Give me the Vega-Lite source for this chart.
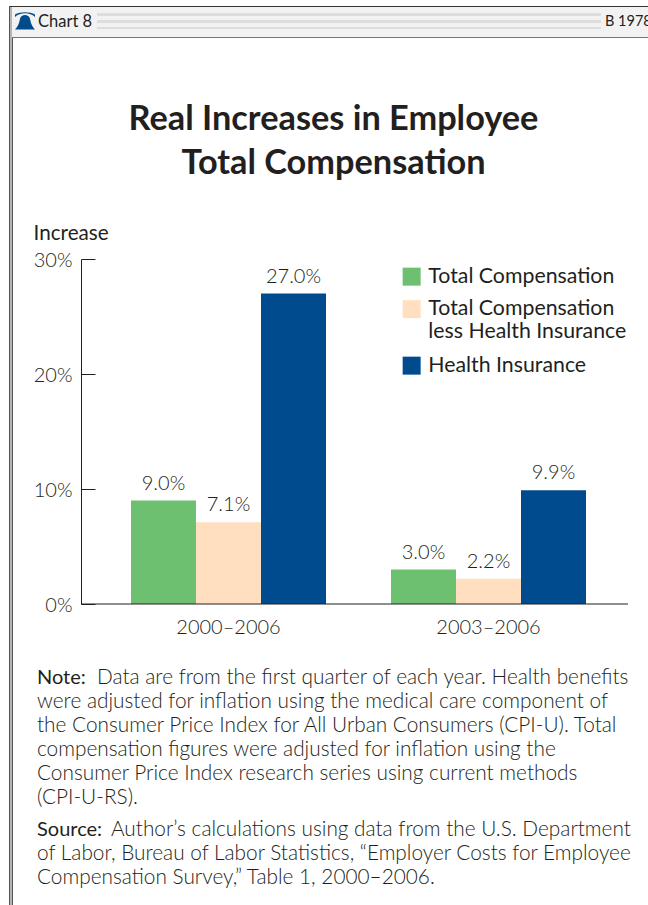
{
"$schema":"https://vega.github.io/schema/vega-lite/v6.json",
"width":547,"height":345,
"autosize":{"type":"none"},
"padding":{"left":81,"top":259,"right":20,"bottom":301},
"background":"#ffffff",
"config":{"view":{"stroke":null},"font":"Lato"},
"title":{"text":["Real Increases in Employee","Total Compensation"],"frame":"group","anchor":"middle","dx":-21,"fontSize":34.3,"fontWeight":"bold","font":"Lato","color":"#231f20","lineHeight":44,"offset":-215,"baseline":"bottom"},
"datasets":{
"bars":[
{"period":"2000–2006","series":"Total Compensation","value":9.0},
{"period":"2000–2006","series":"Total Compensation|less Health Insurance","value":7.1},
{"period":"2000–2006","series":"Health Insurance","value":27.0},
{"period":"2003–2006","series":"Total Compensation","value":3.0},
{"period":"2003–2006","series":"Total Compensation|less Health Insurance","value":2.2},
{"period":"2003–2006","series":"Health Insurance","value":9.9}
],
"frame":[
{"left":0,"right":648,"top":0,"bottom":6,"shade":"#ffffff"},
{"left":9,"right":648,"top":6,"bottom":37,"shade":"#f2f2f2"},
{"left":9,"right":648,"top":6,"bottom":7,"shade":"#333333"},
{"left":9,"right":10,"top":6,"bottom":905,"shade":"#555555"},
{"left":10,"right":12,"top":7,"bottom":905,"shade":"#b5b5b5"},
{"left":12,"right":13,"top":37,"bottom":905,"shade":"#555555"},
{"left":12,"right":648,"top":37,"bottom":38,"shade":"#777777"},
{"left":97,"right":601,"top":13,"bottom":16,"shade":"#dddddd"},
{"left":97,"right":601,"top":20,"bottom":23,"shade":"#dddddd"},
{"left":97,"right":601,"top":27,"bottom":29,"shade":"#dddddd"}
],
"header":[
{"left":38,"middle":22,"label":"Chart 8"},
{"left":605,"middle":22,"label":"B 1978"}
],
"notes":[
{"line":0,"text":"Data are from the first quarter of each year. Health benefits","lead":"Note:"},
{"line":1,"text":"were adjusted for inflation using the medical care component of"},
{"line":2,"text":"the Consumer Price Index for All Urban Consumers (CPI-U). Total"},
{"line":3,"text":"compensation figures were adjusted for inflation using the"},
{"line":4,"text":"Consumer Price Index research series using current methods"},
{"line":5,"text":"(CPI-U-RS)."},
{"line":6.35,"text":"Author’s calculations using data from the U.S. Department","lead":"Source:"},
{"line":7.35,"text":"of Labor, Bureau of Labor Statistics, “Employer Costs for Employee"},
{"line":8.35,"text":"Compensation Survey,” Table 1, 2000–2006."}
]
},
"resolve":{"scale":{"x":"independent","y":"independent","color":"independent"},"legend":{"color":"independent"}},
"layer":[
{"data":{"name":"frame"},
 "mark":{"type":"rect","clip":false},
 "encoding":{
  "x":{"field":"left","type":"quantitative","scale":{"domain":[81,628],"range":[0,547]},"axis":null},
  "x2":{"field":"right"},
  "y":{"field":"top","type":"quantitative","scale":{"domain":[259,604],"range":[0,345]},"axis":null},
  "y2":{"field":"bottom"},
  "color":{"field":"shade","type":"nominal","scale":null,"legend":null}
 }},
{"data":{"name":"header"},
 "transform":[{"filter":"datum.label=='Chart 8'"}],
 "mark":{"type":"text","align":"left","baseline":"middle","fontSize":16.5,"font":"Lato","color":"#231f20"},
 "encoding":{
  "x":{"field":"left","type":"quantitative","scale":{"domain":[81,628],"range":[0,547]},"axis":null},
  "y":{"field":"middle","type":"quantitative","scale":{"domain":[259,604],"range":[0,345]},"axis":null},
  "text":{"field":"label"}
 }},
{"data":{"name":"header"},
 "transform":[{"filter":"datum.label=='B 1978'"}],
 "mark":{"type":"text","align":"left","baseline":"middle","fontSize":14.5,"font":"Lato","color":"#231f20"},
 "encoding":{
  "x":{"field":"left","type":"quantitative","scale":{"domain":[81,628],"range":[0,547]},"axis":null},
  "y":{"field":"middle","type":"quantitative","scale":{"domain":[259,604],"range":[0,345]},"axis":null},
  "text":{"field":"label"}
 }},
{"data":{"values":[{"icon":"bell","left":25,"middle":22}]},
 "mark":{"type":"point","filled":true,"color":"#004b8d","opacity":1,"size":400,"shape":"M-1,0.75 C-0.75,0.5 -0.6,0.2 -0.5,-0.3 C-0.45,-0.6 -0.2,-0.7 0,-0.7 C0.2,-0.7 0.45,-0.6 0.5,-0.3 C0.6,0.2 0.75,0.5 1,0.75 Z M-1,-0.5 C-0.5,-1 0.5,-1 1,-0.5 L1,-0.75 C0.5,-1.05 -0.5,-1.05 -1,-0.75 Z"},
 "encoding":{
  "x":{"field":"left","type":"quantitative","scale":{"domain":[81,628],"range":[0,547]},"axis":null},
  "y":{"field":"middle","type":"quantitative","scale":{"domain":[259,604],"range":[0,345]},"axis":null}
 }},
{"data":{"name":"notes"},
 "mark":{"type":"text","align":"left","baseline":"middle","fontSize":20.8,"font":"Lato","fontWeight":300,"color":"#231f20"},
 "transform":[{"filter":"!datum.lead"}],
 "encoding":{
  "x":{"datum":37,"scale":{"domain":[81,628],"range":[0,547]},"axis":null},
  "y":{"field":"line","type":"quantitative","scale":{"domain":[0,10],"range":[419,659]},"axis":null},
  "text":{"field":"text"}
 }},
{"data":{"name":"notes"},
 "mark":{"type":"text","align":"left","baseline":"middle","fontSize":20,"font":"Lato","fontWeight":"normal","color":"#231f20"},
 "transform":[{"filter":"datum.lead"}],
 "encoding":{
  "x":{"datum":37,"scale":{"domain":[81,628],"range":[0,547]},"axis":null},
  "y":{"field":"line","type":"quantitative","scale":{"domain":[0,10],"range":[419,659]},"axis":null},
  "text":{"field":"lead"}
 }},
{"data":{"name":"notes"},
 "mark":{"type":"text","align":"left","baseline":"middle","fontSize":20.8,"font":"Lato","fontWeight":300,"color":"#231f20","dx":60},
 "transform":[{"filter":"datum.lead=='Note:'"}],
 "encoding":{
  "x":{"datum":37,"scale":{"domain":[81,628],"range":[0,547]},"axis":null},
  "y":{"field":"line","type":"quantitative","scale":{"domain":[0,10],"range":[419,659]},"axis":null},
  "text":{"field":"text"}
 }},
{"data":{"name":"notes"},
 "mark":{"type":"text","align":"left","baseline":"middle","fontSize":20.8,"font":"Lato","fontWeight":300,"color":"#231f20","dx":74},
 "transform":[{"filter":"datum.lead=='Source:'"}],
 "encoding":{
  "x":{"datum":37,"scale":{"domain":[81,628],"range":[0,547]},"axis":null},
  "y":{"field":"line","type":"quantitative","scale":{"domain":[0,10],"range":[419,659]},"axis":null},
  "text":{"field":"text"}
 }},
{"data":{"name":"bars"},
 "transform":[{"calculate":"format(datum.value,'.1f')+'%'","as":"lab"}],
 "encoding":{
  "x":{"field":"period","type":"nominal","scale":{"range":[50,505],"paddingInner":0.25,"paddingOuter":0},
   "axis":{"title":null,"domain":false,"ticks":false,"labelAngle":0,"labelFontSize":20,"labelFont":"Lato","labelFontWeight":300,"labelColor":"#231f20","labelPadding":13.5,"labelBaseline":"top"}},
  "xOffset":{"field":"series","type":"nominal","sort":["Total Compensation","Total Compensation|less Health Insurance","Health Insurance"],"scale":{"paddingInner":0,"paddingOuter":0}},
  "y":{"field":"value","type":"quantitative","scale":{"domain":[0,30],"nice":false},
   "axis":{"title":"Increase","titleAngle":0,"titleX":-48,"titleY":-20,"titleAlign":"left","titleBaseline":"alphabetic","titleFontSize":20.7,"titleFontWeight":"normal","titleFont":"Lato","titleColor":"#231f20",
    "values":[0,10,20,30],"labelExpr":"datum.value+'%'","labelFontSize":20,"labelFont":"Lato","labelFontWeight":300,"labelColor":"#231f20","labelPadding":23,"labelOffset":1,"grid":false,"domainColor":"#231f20","domainWidth":1,"tickColor":"#231f20","tickWidth":1,"tickSize":-14}}
 },
 "layer":[
  {"mark":{"type":"bar"},
   "encoding":{"color":{"field":"series","type":"nominal","sort":["Total Compensation","Total Compensation|less Health Insurance","Health Insurance"],
    "scale":{"domain":["Total Compensation","Total Compensation|less Health Insurance","Health Insurance"],"range":["#6cc070","#ffdfbf","#004b8d"]},
    "legend":{"title":null,"orient":"none","legendX":320,"legendY":7,"symbolType":"square","symbolSize":324,"symbolStrokeWidth":0,"symbolOpacity":1,"labelFontSize":21.3,"labelFont":"Lato","labelColor":"#231f20","labelLimit":300,"labelOffset":6,"rowPadding":10.5,"labelExpr":"split(datum.label,'|')","labelBaseline":"middle","encoding":{"labels":{"update":{"lineHeight":{"value":25}}}}}}}},
  {"mark":{"type":"text","baseline":"bottom","dy":-7,"fontSize":20,"font":"Lato","fontWeight":300,"color":"#231f20"},
   "encoding":{"text":{"field":"lab"},"detail":{"field":"series"}}}
 ]},
{"data":{"values":[{"level":0}]},
 "mark":{"type":"rule","color":"#231f20","strokeWidth":1},
 "encoding":{"y":{"field":"level","type":"quantitative","scale":{"domain":[0,30],"nice":false},"axis":null}}}
]
}
